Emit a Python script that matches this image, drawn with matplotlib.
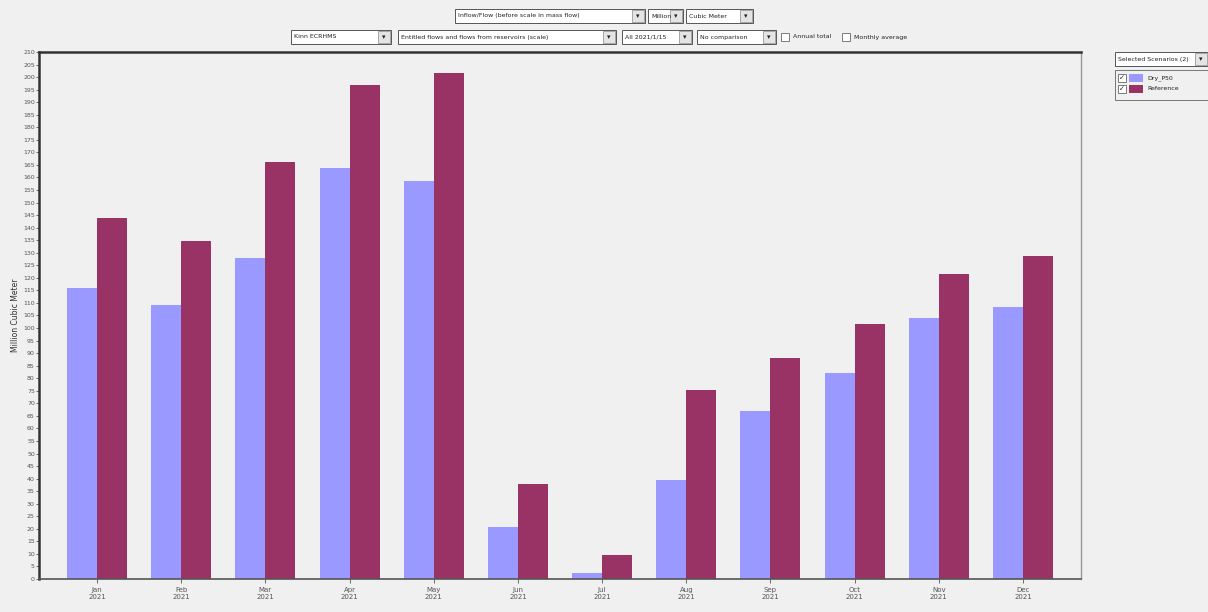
import numpy as np
import matplotlib
matplotlib.use('Agg')
import matplotlib.pyplot as plt
from matplotlib.patches import Rectangle

# Data
months = ['Jan', 'Feb', 'Mar', 'Apr', 'May', 'Jun', 'Jul', 'Aug', 'Sep', 'Oct', 'Nov', 'Dec']
years = ['2021'] * 12
dry_p50 = [115.9, 109.2, 127.9, 163.7, 158.6, 20.7, 2.4, 39.4, 66.9, 82.1, 104.0, 108.4]
reference = [143.8, 134.7, 166.1, 196.8, 201.6, 37.8, 9.6, 75.3, 88.0, 101.6, 121.5, 128.7]
series_names = ['Dry_P50', 'Reference']
y_ticks = list(range(0, 215, 5))

BG = '#f0f0f0'
BLUE = '#9999ff'
PLUM = '#993366'

W, H = 1208, 612
fig = plt.figure(figsize=(W / 100, H / 100), dpi=100, facecolor=BG)
ax = fig.add_axes([39 / W, 1 - 579 / H, (1081 - 39) / W, (579 - 52) / H])
ax.set_facecolor(BG)

x = np.arange(len(months))
bw = 0.357
ax.bar(x - bw / 2, dry_p50, bw, color=BLUE, zorder=2)
ax.bar(x + bw / 2, reference, bw, color=PLUM, zorder=2)

ax.set_xlim(-0.69, 11.69)
ax.set_ylim(0, 210)
ax.set_yticks(y_ticks)
ax.set_yticklabels([str(v) for v in y_ticks], fontsize=4.5, color='#444444')
ax.set_xticks(x)
ax.set_xticklabels([f'{m}\n{y}' for m, y in zip(months, years)], fontsize=5, color='#444444')
ax.tick_params(axis='y', length=2, width=0.6, pad=1, colors='#555555')
ax.tick_params(axis='x', length=3, width=0.6, pad=3, colors='#555555')
ax.set_ylabel('Million Cubic Meter', fontsize=5.5, labelpad=2, color='#333333')

for side in ['top', 'left']:
    ax.spines[side].set_linewidth(1.8)
    ax.spines[side].set_color('#333333')
ax.spines['bottom'].set_linewidth(1.2)
ax.spines['bottom'].set_color('#555555')
ax.spines['right'].set_linewidth(1.0)
ax.spines['right'].set_color('#999999')


def px(xp, yp):
    return xp / W, 1 - yp / H


def box(x0, y0, x1, y1, text, arrow=True, fs=4.5):
    fx, fy = px(x0, y1)
    fig.add_artist(Rectangle((fx, fy), (x1 - x0) / W, (y1 - y0) / H,
                             transform=fig.transFigure, facecolor='white',
                             edgecolor='#555555', linewidth=0.7))
    tx, ty = px(x0 + 3, (y0 + y1) / 2)
    fig.text(tx, ty, text, fontsize=fs, va='center', ha='left', color='#222222')
    if arrow:
        ax0 = x1 - 13
        fx, fy = px(ax0, y1 - 1)
        fig.add_artist(Rectangle((fx, fy), 12 / W, (y1 - y0 - 2) / H,
                                 transform=fig.transFigure, facecolor='#e4e4e4',
                                 edgecolor='#888888', linewidth=0.5))
        tx, ty = px(ax0 + 6, (y0 + y1) / 2)
        fig.text(tx, ty, '\u25be', fontsize=5, va='center', ha='center', color='#222222')


def checkbox(x0, yc, text):
    fx, fy = px(x0, yc + 4)
    fig.add_artist(Rectangle((fx, fy), 8 / W, 8 / H, transform=fig.transFigure,
                             facecolor='white', edgecolor='#666666', linewidth=0.6))
    tx, ty = px(x0 + 12, yc)
    fig.text(tx, ty, text, fontsize=4.5, va='center', ha='left', color='#222222')


# toolbar row 1
box(455, 9, 645, 23, 'Inflow/Flow (before scale in mass flow)')
box(648, 9, 683, 23, 'Million')
box(686, 9, 753, 23, 'Cubic Meter')
# toolbar row 2
box(291, 30, 391, 44, 'Kinn ECRHMS')
box(398, 30, 616, 44, 'Entitled flows and flows from reservoirs (scale)')
box(622, 30, 692, 44, 'All 2021/1/15')
box(697, 30, 776, 44, 'No comparison')
checkbox(781, 37, 'Annual total')
checkbox(842, 37, 'Monthly average')

# legend on the right
box(1115, 52, 1208, 66, 'Selected Scenarios (2)')
fx, fy = px(1115, 100)
fig.add_artist(Rectangle((fx, fy), 93 / W, 30 / H, transform=fig.transFigure,
                         facecolor=BG, edgecolor='#777777', linewidth=0.7))
for i, (name, col) in enumerate(zip(series_names, [BLUE, PLUM])):
    yc = 78 + i * 11
    fx, fy = px(1118, yc + 4)
    fig.add_artist(Rectangle((fx, fy), 8 / W, 8 / H, transform=fig.transFigure,
                             facecolor='white', edgecolor='#666666', linewidth=0.6))
    tx, ty = px(1122, yc)
    fig.text(tx, ty, '\u2713', fontsize=5, va='center', ha='center', color='#222222')
    fx, fy = px(1129, yc + 4)
    fig.add_artist(Rectangle((fx, fy), 14 / W, 8 / H, transform=fig.transFigure,
                             facecolor=col, edgecolor='none'))
    tx, ty = px(1147, yc)
    fig.text(tx, ty, name, fontsize=4.5, va='center', ha='left', color='#222222')

fig.savefig('out.png', dpi=100, facecolor=BG)
